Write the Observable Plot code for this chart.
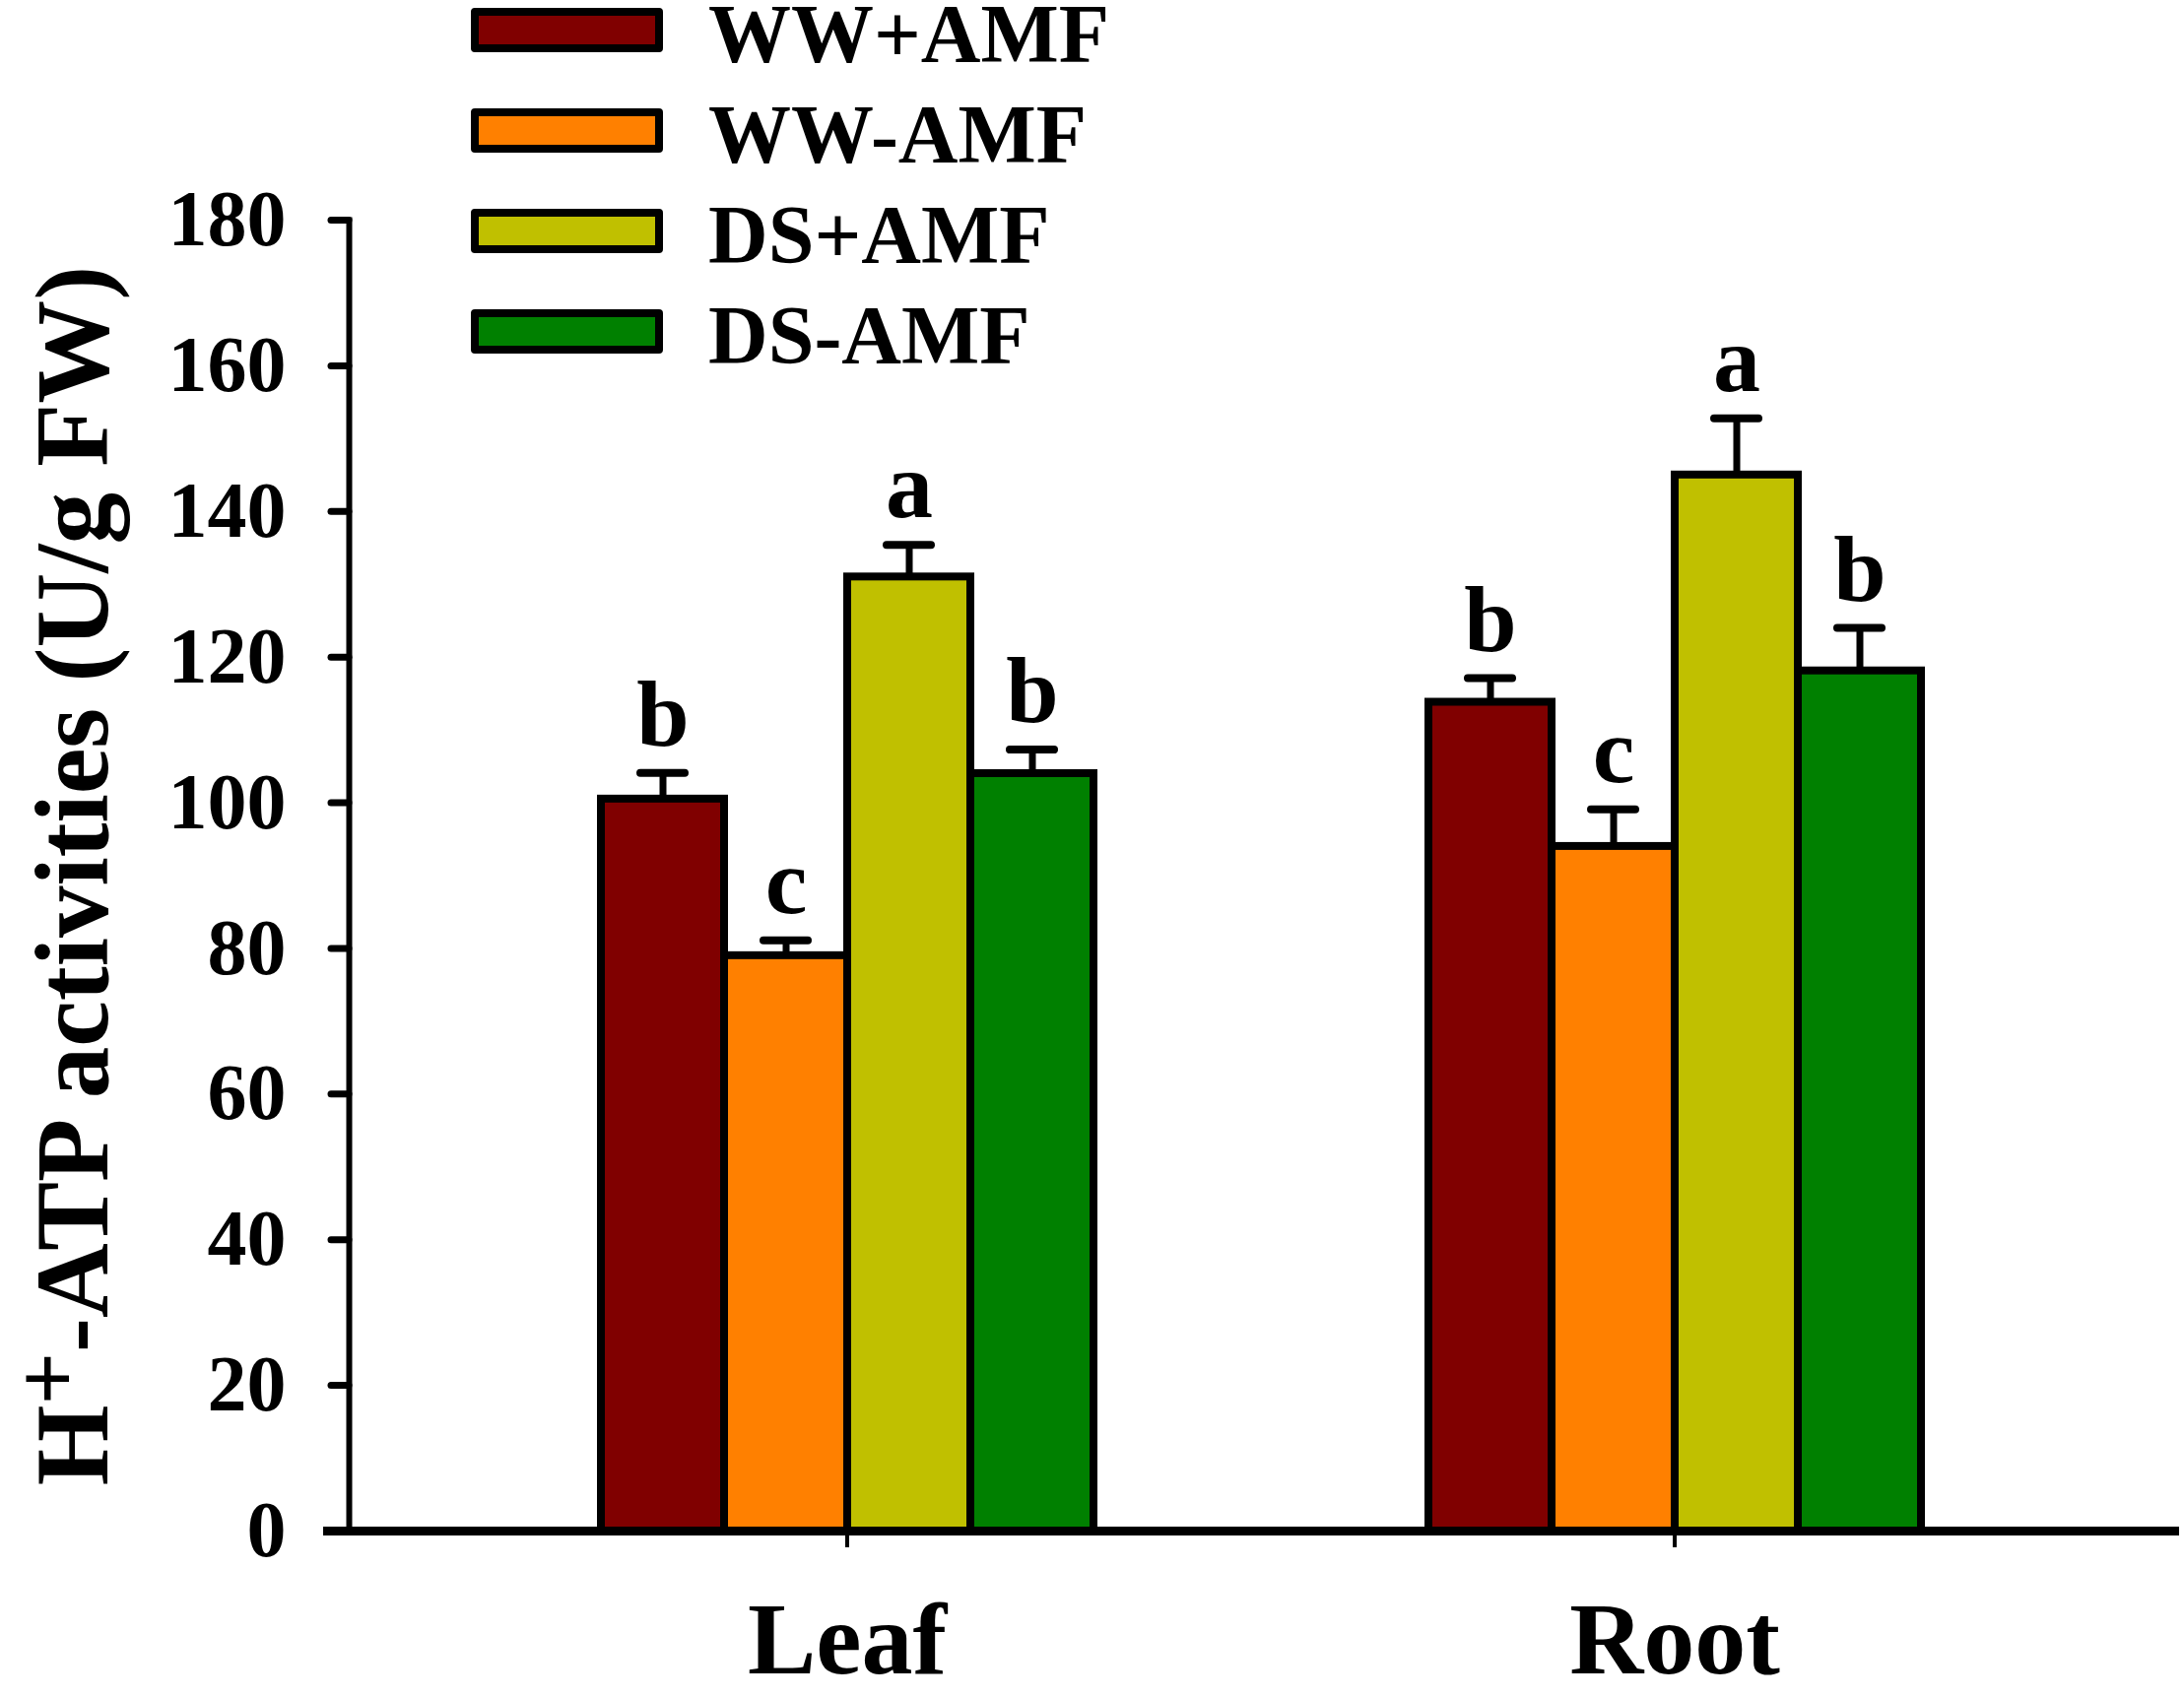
<!DOCTYPE html>
<html><head><meta charset="utf-8">
<script src="https://cdn.jsdelivr.net/npm/d3@7"></script>
<script src="https://cdn.jsdelivr.net/npm/@observablehq/plot@0.6"></script>
<style>
html,body{margin:0;padding:0;background:#fff;}
#wrap{position:relative;width:2217px;height:1724px;overflow:hidden;}
.sw{position:absolute;width:195px;height:45px;box-sizing:border-box;border:8px solid #000;border-radius:4px;}
.lt{position:absolute;font-family:"Liberation Serif","Times New Roman",serif;font-weight:bold;font-size:84px;line-height:70px;white-space:nowrap;color:#000;}
</style></head><body><div id="wrap"></div>
<script>
const organs = ["Leaf", "Root"];
const treatments = ["WW+AMF", "WW-AMF", "DS+AMF", "DS-AMF"];
const colors = ["#800000", "#ff8000", "#c0c000", "#008000"];
const leafMeans = [100.5, 79.0, 131.0, 104.0];
const leafErrors = [3.6, 2.1, 4.4, 3.3];
const rootMeans = [113.8, 94.0, 145.0, 118.1];
const rootErrors = [3.3, 5.1, 7.8, 5.9];
const leafLetters = ["b", "c", "a", "b"];
const rootLetters = ["b", "c", "a", "b"];
const yTicks = [0, 20, 40, 60, 80, 100, 120, 140, 160, 180];
const yLabelParts = ["H", "+", "-ATP activities (U/g FW)"];

const means = [leafMeans, rootMeans];
const errors = [leafErrors, rootErrors];
const letters = [leafLetters, rootLetters];
const data = [];
organs.forEach((o, g) => treatments.forEach((t, i) => data.push({
  organ: o, treatment: t, value: means[g][i], top: means[g][i] + errors[g][i], letter: letters[g][i]
})));

const font = '"Liberation Serif", "Times New Roman", serif';
const plot = Plot.plot({
  width: 2217, height: 1724,
  marginLeft: 354, marginRight: 8, marginTop: 223, marginBottom: 170,
  style: {fontFamily: font, fontWeight: "bold", background: "white", overflow: "visible", color: "#000"},
  fx: {domain: organs, paddingInner: 0, paddingOuter: 0.1029, align: 0, label: null},
  x: {domain: treatments, paddingInner: 0, paddingOuter: 1.3373, align: 0.7537, axis: null},
  y: {domain: [0, 180]},
  color: {domain: treatments, range: colors},
  marks: [
    Plot.barY(data, {fx: "organ", x: "treatment", y: "value", fill: "treatment", stroke: "#000", strokeWidth: 8}),
    Plot.ruleX(data, {fx: "organ", x: "treatment", y1: "value", y2: "top", stroke: "#000", strokeWidth: 7}),
    Plot.tickY(data, {fx: "organ", x: "treatment", y: "top", stroke: "#000", strokeWidth: 8, strokeLinecap: "round", inset: 40}),
    Plot.text(data, {fx: "organ", x: "treatment", y: "top", text: "letter", lineAnchor: "bottom", dy: -28, fontSize: 96, fontWeight: "bold"}),
    Plot.axisY({ticks: yTicks, tickSize: 18, tickPadding: 46, fontSize: 80, fontWeight: "bold", strokeWidth: 7, strokeLinecap: "round",
      label: yLabelParts.join(""), labelAnchor: "center", labelOffset: 320, labelArrow: "none"}),
    Plot.axisFx({anchor: "bottom", dx: 85.5, tickSize: 17, tickPadding: 54, fontSize: 104, fontWeight: "bold", strokeWidth: 4, label: null}),
    Plot.frame({anchor: "left", facet: "super", stroke: "#000", strokeWidth: 6}),
    Plot.frame({anchor: "bottom", facet: "super", stroke: "#000", strokeWidth: 9, insetLeft: -22, insetRight: -173})
  ]
});

// superscript in y label
const lab = d3.select(plot).select('g[aria-label="y-axis label"] text');
if (!lab.empty()) {
  lab.attr("font-size", 105).text(null);
  lab.append("tspan").text(yLabelParts[0]);
  lab.append("tspan").attr("dy", -30).attr("font-size", 94).text(yLabelParts[1]);
  lab.append("tspan").attr("dy", 30).text(yLabelParts[2]);
}

const wrap = document.getElementById("wrap");
wrap.appendChild(plot);

treatments.forEach((t, i) => {
  const top = 8 + i * 102;
  const sw = document.createElement("div");
  sw.className = "sw";
  sw.style.left = "478px";
  sw.style.top = top + "px";
  sw.style.background = colors[i];
  wrap.appendChild(sw);
  const lt = document.createElement("div");
  lt.className = "lt";
  lt.style.left = "719px";
  lt.style.top = (top - 8) + "px";
  lt.textContent = t;
  wrap.appendChild(lt);
});
</script>
</body></html>
